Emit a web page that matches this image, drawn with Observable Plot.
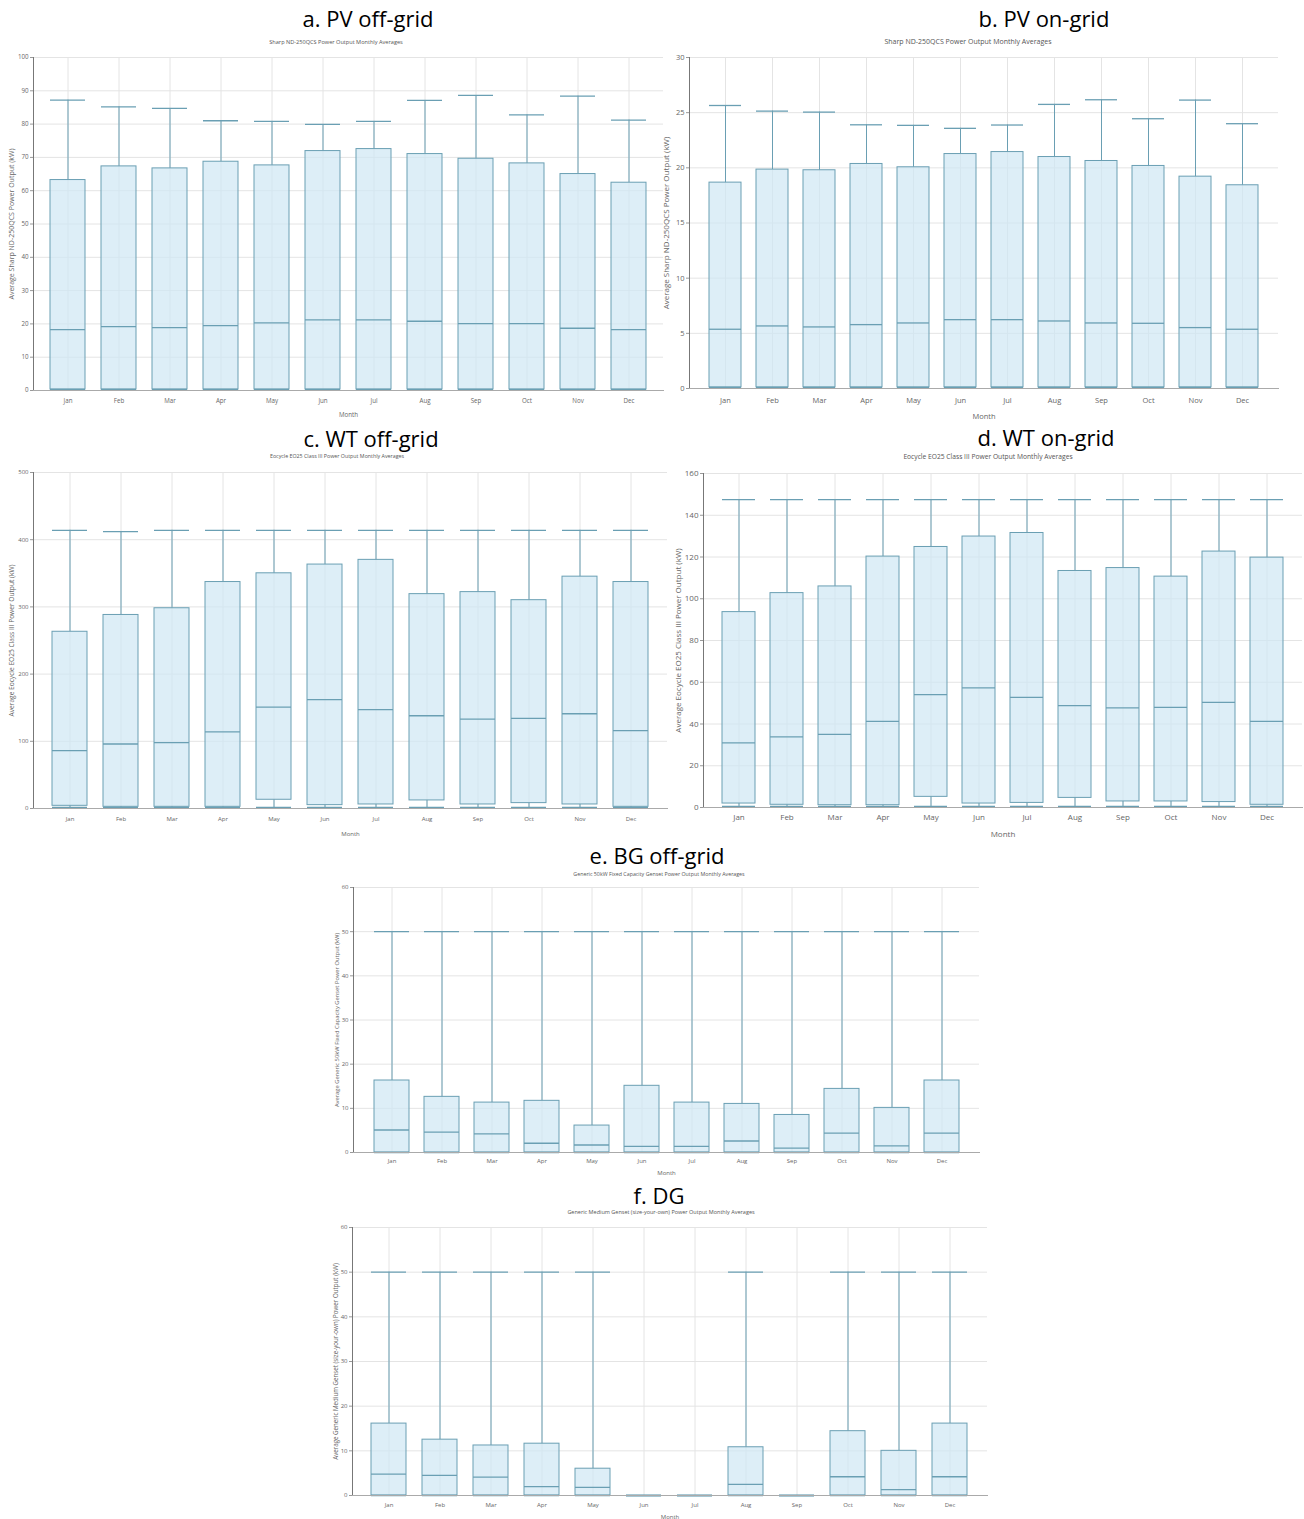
<!DOCTYPE html>
<html><head><meta charset="utf-8">
<script src="https://cdn.jsdelivr.net/npm/d3@7"></script>
<script src="https://cdn.jsdelivr.net/npm/@observablehq/plot@0.6"></script>
<style>
body{margin:0;background:#fff;width:1304px;height:1519px;position:relative;overflow:hidden;font-family:"Open Sans",sans-serif}
.title{position:absolute;font-family:"Open Sans",sans-serif;font-size:22px;color:#000;transform:translate(-50%,-50%);white-space:nowrap;line-height:1}
.sub{position:absolute;color:#555;transform:translate(-50%,-50%);white-space:nowrap;line-height:1}
.panel{position:absolute}
</style></head><body>
<script>
const months = ["Jan","Feb","Mar","Apr","May","Jun","Jul","Aug","Sep","Oct","Nov","Dec"];

// a. PV off-grid
const pvOffMax = [87.2,85.2,84.7,81.0,80.8,79.9,80.8,87.1,88.6,82.8,88.4,81.2];
const pvOffQ3  = [63.2,67.3,66.7,68.7,67.6,71.9,72.5,71.0,69.6,68.2,65.0,62.4];
const pvOffMed = [18.3,19.2,18.9,19.5,20.3,21.2,21.2,20.8,20.1,20.1,18.7,18.3];
const pvOffQ1  = [0.3,0.3,0.3,0.3,0.3,0.3,0.3,0.3,0.3,0.3,0.3,0.3];
const pvOffMin = [0.3,0.3,0.3,0.3,0.3,0.3,0.3,0.3,0.3,0.3,0.3,0.3];

// b. PV on-grid
const pvOnMax = [25.65,25.14,25.05,23.9,23.85,23.58,23.88,25.75,26.17,24.45,26.14,24.0];
const pvOnQ3  = [18.66,19.84,19.78,20.35,20.05,21.25,21.43,20.98,20.62,20.17,19.2,18.42];
const pvOnMed = [5.37,5.67,5.58,5.79,5.94,6.24,6.24,6.12,5.94,5.91,5.52,5.37];
const pvOnQ1  = [0.1,0.1,0.1,0.1,0.1,0.1,0.1,0.1,0.1,0.1,0.1,0.1];
const pvOnMin = [0.1,0.1,0.1,0.1,0.1,0.1,0.1,0.1,0.1,0.1,0.1,0.1];

// c. WT off-grid
const wtOffMax = [414,412,414,414,414,414,414,414,414,414,414,414];
const wtOffQ3  = [263,288,298,337,350,363,370,319,322,310,345,337];
const wtOffMed = [86,96,98,114,151,162,147,138,133,134,141,116];
const wtOffQ1  = [4,2.5,2.5,2.5,13,5,6,12,6,8,6,2.5];
const wtOffMin = [1.5,1.5,1.5,1.5,1.5,1.5,1.5,1.5,1.5,1.5,1.5,1.5];

// d. WT on-grid
const wtOnMax = [147.5,147.5,147.5,147.5,147.5,147.5,147.5,147.5,147.5,147.5,147.5,147.5];
const wtOnQ3  = [93.6,102.7,105.9,120.2,124.8,129.8,131.5,113.3,114.7,110.6,122.6,119.7];
const wtOnMed = [31,33.8,35,41.3,54.1,57.3,52.8,48.8,47.7,48,50.4,41.3];
const wtOnQ1  = [1.9,1.3,1.1,1.1,5.1,1.9,2.2,4.6,2.9,2.9,2.6,1.3];
const wtOnMin = [0.5,0.5,0.5,0.5,0.5,0.5,0.5,0.5,0.5,0.5,0.5,0.5];

// e. BG off-grid
const bgMax = [50,50,50,50,50,50,50,50,50,50,50,50];
const bgQ3  = [16.3,12.6,11.3,11.7,6.1,15.1,11.3,11.0,8.5,14.4,10.1,16.3];
const bgMed = [5.1,4.6,4.2,2.1,1.7,1.4,1.4,2.6,1.0,4.4,1.5,4.4];
const bgQ1  = [0,0,0,0,0,0,0,0,0,0,0,0];
const bgMin = [0,0,0,0,0,0,0,0,0,0,0,0];

// f. DG
const dgMax = [50,50,50,50,50,0,0,50,0,50,50,50];
const dgQ3  = [16.1,12.5,11.2,11.6,6.0,0,0,10.8,0,14.4,10.0,16.1];
const dgMed = [4.8,4.5,4.1,2.0,1.8,0,0,2.5,0,4.2,1.3,4.2];
const dgQ1  = [0,0,0,0,0,0,0,0,0,0,0,0];
const dgMin = [0,0,0,0,0,0,0,0,0,0,0,0];

const panels = [
  {title:"a. PV off-grid", tx:368, ty:18, sub:"Sharp ND-250QCS Power Output Monthly Averages", sx:336, sy:43, sfs:5.6,
   left:0, top:50, width:665, height:370, ml:33, mr:2, mt:7, mb:30, dom:[0,100], step:10, fs:6.2, lfs:7,
   ylabel:"Average Sharp ND-250QCS Power Output (kW)", lo:24, xo:26, tp:8,
   max:pvOffMax, q3:pvOffQ3, med:pvOffMed, q1:pvOffQ1, min:pvOffMin},
  {title:"b. PV on-grid", tx:1044, ty:18, sub:"Sharp ND-250QCS Power Output Monthly Averages", sx:968, sy:41, sfs:7,
   left:650, top:50, width:630, height:368, ml:39, mr:2, mt:7, mb:30, dom:[0,30], step:5, fs:7.5, lfs:8,
   ylabel:"Average Sharp ND-250QCS Power Output (kW)", lo:26, xo:30, tp:9,
   max:pvOnMax, q3:pvOnQ3, med:pvOnMed, q1:pvOnQ1, min:pvOnMin},
  {title:"c. WT off-grid", tx:371, ty:438, sub:"Eocycle EO25 Class III Power Output Monthly Averages", sx:337, sy:457, sfs:5.3,
   left:0, top:465, width:670, height:373, ml:33, mr:3, mt:7, mb:30, dom:[0,500], step:100, fs:6, lfs:6.6,
   ylabel:"Average Eocycle EO25 Class III Power Output (kW)", lo:24, xo:27, tp:8,
   max:wtOffMax, q3:wtOffQ3, med:wtOffMed, q1:wtOffQ1, min:wtOffMin},
  {title:"d. WT on-grid", tx:1046, ty:437, sub:"Eocycle EO25 Class III Power Output Monthly Averages", sx:988, sy:457, sfs:6.7,
   left:660, top:465, width:644, height:372, ml:43, mr:2, mt:8, mb:30, dom:[0,160], step:20, fs:8, lfs:8,
   ylabel:"Average Eocycle EO25 Class III Power Output (kW)", lo:28, xo:29, tp:7,
   max:wtOnMax, q3:wtOnQ3, med:wtOnMed, q1:wtOnQ1, min:wtOnMin},
  {title:"e. BG off-grid", tx:657, ty:855, sub:"Generic 50kW Fixed Capacity Genset Power Output Monthly Averages", sx:659, sy:875, sfs:5.3,
   left:320, top:880, width:662, height:302, ml:33, mr:3, mt:7, mb:30, dom:[0,60], step:10, fs:6, lfs:5.8,
   ylabel:"Average Generic 50kW Fixed Capacity Genset Power Output (kW)", lo:19, xo:22, tp:6,
   max:bgMax, q3:bgQ3, med:bgMed, q1:bgQ1, min:bgMin},
  {title:"f. DG", tx:659, ty:1195, sub:"Generic Medium Genset (size-your-own) Power Output Monthly Averages", sx:661, sy:1213, sfs:5.5,
   left:320, top:1220, width:670, height:299, ml:32, mr:3, mt:7, mb:24, dom:[0,60], step:10, fs:6, lfs:6.2,
   ylabel:"Average Generic Medium Genset (size-your-own) Power Output (kW)", lo:19, xo:23, tp:7,
   max:dgMax, q3:dgQ3, med:dgMed, q1:dgQ1, min:dgMin}
];

const C = "#6a9fb3";
for (const p of panels) {
  const rows = months.map((m, i) => ({month: m, max: p.max[i], q3: p.q3[i], med: p.med[i], q1: p.q1[i], min: p.min[i]}));
  const ticks = d3.range(p.dom[0], p.dom[1] + 0.001, p.step);
  const t = document.createElement("div");
  t.className = "title"; t.textContent = p.title;
  t.style.left = p.tx + "px"; t.style.top = p.ty + "px";
  document.body.appendChild(t);
  const s = document.createElement("div");
  s.className = "sub"; s.textContent = p.sub;
  s.style.left = p.sx + "px"; s.style.top = p.sy + "px"; s.style.fontSize = p.sfs + "px";
  document.body.appendChild(s);

  const chart = Plot.plot({
    width: p.width, height: p.height,
    marginLeft: p.ml, marginRight: p.mr, marginTop: p.mt, marginBottom: p.mb,
    style: {fontFamily: "'Open Sans', sans-serif", fontSize: p.fs + "px", color: "#666", background: "transparent", overflow: "visible"},
    x: {domain: months, padding: 0.31, align: 0.5},
    y: {domain: p.dom},
    marks: [
      Plot.gridY(ticks, {stroke: "#e4e4e4", strokeOpacity: 1}),
      Plot.gridX(months, {stroke: "#e4e4e4", strokeOpacity: 1}),
      Plot.ruleX(rows, {x: "month", y1: "q3", y2: "max", stroke: C, strokeWidth: 1}),
      Plot.ruleX(rows, {x: "month", y1: "min", y2: "q1", stroke: C, strokeWidth: 1}),
      Plot.barY(rows, {x: "month", y1: "q1", y2: "q3", fill: "#cee7f4", fillOpacity: 0.7, stroke: C, strokeWidth: 1}),
      Plot.tickY(rows, {x: "month", y: "med", stroke: C, strokeWidth: 1.3}),
      Plot.tickY(rows, {x: "month", y: "max", stroke: C, strokeWidth: 1.3}),
      Plot.tickY(rows, {x: "month", y: "min", stroke: C, strokeWidth: 1.3}),
      Plot.frame({anchor: "left", stroke: "#777"}),
      Plot.frame({anchor: "bottom", stroke: "#aaa"}),
      Plot.axisY({ticks, tickSize: 3, tickPadding: 2, stroke: "#999", fill: "#666", fontSize: p.fs,
        label: p.ylabel, labelAnchor: "center", labelArrow: "none", labelOffset: p.lo}),
      Plot.axisX({tickSize: 0, tickPadding: p.tp, fill: "#666", fontSize: p.fs,
        label: "Month", labelAnchor: "center", labelArrow: "none", labelOffset: p.xo})
    ]
  });
  chart.classList.add("panel");
  chart.style.left = p.left + "px";
  chart.style.top = p.top + "px";
  chart.querySelectorAll("[aria-label='y-axis label'] text, [aria-label='y-axis label']").forEach(e => e.setAttribute("font-size", p.lfs));
  document.body.appendChild(chart);
}
</script>
</body></html>
